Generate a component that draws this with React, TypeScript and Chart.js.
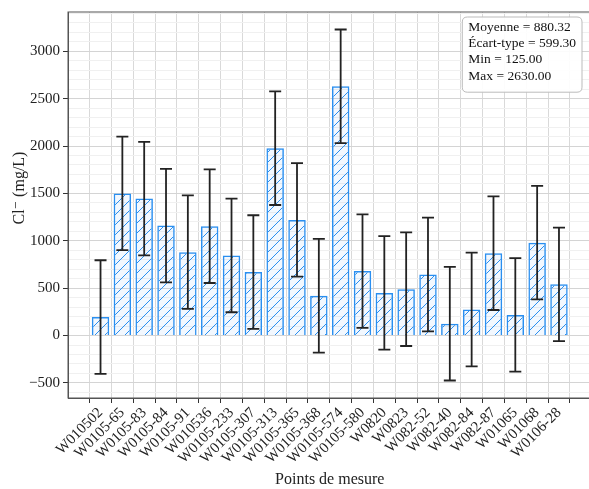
import React, { useEffect, useRef } from "react";
import { Chart, registerables } from "chart.js";

Chart.register(...registerables);

// ---- Data ----
const categories = [
  "W010502", "W0105-65", "W0105-83", "W0105-84", "W0105-91", "W010536",
  "W0105-233", "W0105-307", "W0105-313", "W0105-365", "W0105-368", "W0105-574",
  "W0105-580", "W0820", "W0823", "W082-52", "W082-40", "W082-84",
  "W082-87", "W01065", "W01068", "W0106-28",
];
const chlorideValues = [
  195, 1500, 1445, 1160, 880, 1154,
  845, 670, 1977, 1220, 420, 2630,
  680, 450, 489, 644, 125, 275,
  869, 218, 980, 540,
];
// every error bar is ± one standard deviation
const errorHalfWidth = 599.3;
const yMajorTicks = [-500, 0, 500, 1000, 1500, 2000, 2500, 3000];
const statsLines = [
  "Moyenne = 880.32",
  "Écart-type = 599.30",
  "Min = 125.00",
  "Max = 2630.00",
];
const xTitle = "Points de mesure";
const yTitle = "Cl\u207B (mg/L)";

const FONT = "'Liberation Serif', 'DejaVu Serif', serif";
const EDGE = "#2a8ff0";

function makeHatch(): CanvasPattern | string {
  const s = 10;
  const c = document.createElement("canvas");
  c.width = s;
  c.height = s;
  const g = c.getContext("2d");
  if (!g) return "rgba(30,144,255,0.08)";
  g.fillStyle = "rgba(30,144,255,0.06)";
  g.fillRect(0, 0, s, s);
  g.strokeStyle = EDGE;
  g.lineWidth = 1;
  g.beginPath();
  g.moveTo(0, s);
  g.lineTo(s, 0);
  g.moveTo(-s / 2, s / 2);
  g.lineTo(s / 2, -s / 2);
  g.moveTo(s / 2, s + s / 2);
  g.lineTo(s + s / 2, s / 2);
  g.stroke();
  const p = g.createPattern(c, "repeat");
  return p || "rgba(30,144,255,0.08)";
}

const errorBarPlugin = {
  id: "errorBars",
  afterDatasetsDraw(chart: any) {
    const { ctx, scales } = chart;
    const xs = scales.x;
    const ys = scales.y;
    ctx.save();
    ctx.strokeStyle = "#222";
    ctx.lineWidth = 1.8;
    const cap = 6;
    chlorideValues.forEach((v, i) => {
      const x = xs.getPixelForValue(i);
      const yt = ys.getPixelForValue(v + errorHalfWidth);
      const yb = ys.getPixelForValue(v - errorHalfWidth);
      ctx.beginPath();
      ctx.moveTo(x, yt);
      ctx.lineTo(x, yb);
      ctx.moveTo(x - cap, yt);
      ctx.lineTo(x + cap, yt);
      ctx.moveTo(x - cap, yb);
      ctx.lineTo(x + cap, yb);
      ctx.stroke();
    });
    ctx.restore();
  },
};

const framePlugin = {
  id: "frameAndStats",
  afterDraw(chart: any) {
    const { ctx, chartArea } = chart;
    ctx.save();
    ctx.strokeStyle = "#555";
    ctx.lineWidth = 1;
    ctx.strokeRect(chartArea.left, chartArea.top, chartArea.right - chartArea.left, chartArea.bottom - chartArea.top);

    // y-axis title
    ctx.save();
    ctx.translate(20, 188);
    ctx.rotate(-Math.PI / 2);
    ctx.font = `16px ${FONT}`;
    ctx.fillStyle = "#222";
    ctx.textAlign = "center";
    ctx.textBaseline = "middle";
    ctx.fillText(yTitle, 0, 0);
    ctx.restore();

    // statistics box (top-right)
    ctx.font = `13.5px ${FONT}`;
    const lineH = 16.3;
    const padX = 6;
    const padTop = 2;
    const padBottom = 8;
    let w = 0;
    statsLines.forEach((t) => { w = Math.max(w, ctx.measureText(t).width); });
    const bw = w + padX * 2;
    const bh = statsLines.length * lineH + padTop + padBottom;
    const right = chartArea.right - 9.5;
    const top = chartArea.top + 5;
    const left = right - bw;
    const r = 5;
    ctx.beginPath();
    ctx.moveTo(left + r, top);
    ctx.lineTo(left + bw - r, top);
    ctx.quadraticCurveTo(left + bw, top, left + bw, top + r);
    ctx.lineTo(left + bw, top + bh - r);
    ctx.quadraticCurveTo(left + bw, top + bh, left + bw - r, top + bh);
    ctx.lineTo(left + r, top + bh);
    ctx.quadraticCurveTo(left, top + bh, left, top + bh - r);
    ctx.lineTo(left, top + r);
    ctx.quadraticCurveTo(left, top, left + r, top);
    ctx.closePath();
    ctx.fillStyle = "rgba(255,255,255,0.9)";
    ctx.fill();
    ctx.strokeStyle = "#bbb";
    ctx.stroke();
    ctx.fillStyle = "#111";
    ctx.textBaseline = "middle";
    ctx.textAlign = "left";
    statsLines.forEach((t, i) => {
      ctx.fillText(t, left + padX, top + padTop + lineH * i + lineH / 2);
    });
    ctx.restore();
  },
};

export default function App() {
  const ref = useRef<HTMLCanvasElement>(null);

  useEffect(() => {
    document.body.style.margin = "0";
    document.body.style.overflow = "hidden";
    const canvas = ref.current;
    if (!canvas) return;
    const hatch = makeHatch();

    const chart = new Chart(canvas, {
      type: "bar",
      data: {
        datasets: [
          {
            label: "Cl",
            data: chlorideValues.map((v, i) => ({ x: i, y: v })),
            backgroundColor: hatch as any,
            borderColor: EDGE,
            borderWidth: 1.5,
            barPercentage: 0.8,
            categoryPercentage: 1,
          },
        ],
      },
      options: {
        responsive: false,
        animation: false,
        events: [],
        layout: { padding: { top: 7.5, right: 8.5, bottom: 0, left: 0 } },
        plugins: { legend: { display: false }, tooltip: { enabled: false } },
        scales: {
          x: {
            type: "linear",
            min: -1.49,
            max: 22.49,
            offset: false,
            afterBuildTicks: (axis: any) => {
              axis.ticks = categories.map((_, i) => ({ value: i }));
            },
            afterFit: (axis: any) => { axis.height = 91; },
            ticks: {
              autoSkip: false,
              minRotation: 45,
              maxRotation: 45,
              padding: 1,
              color: "#222",
              font: { family: FONT, size: 15 },
              callback: (v: any) => categories[Number(v)] ?? "",
            },
            grid: {
              color: "#d9d9d9",
              lineWidth: 1,
              tickLength: 5,
              tickColor: "#333",
            },
            border: { display: true, color: "#555" },
            title: {
              display: true,
              text: xTitle,
              color: "#222",
              font: { family: FONT, size: 16 },
              padding: { top: 0, bottom: 0 },
            },
          },
          y: {
            type: "linear",
            min: -659,
            max: 3414,
            afterBuildTicks: (axis: any) => {
              const t: any[] = [];
              for (let v = -600; v <= 3400; v += 100) t.push({ value: v });
              axis.ticks = t;
            },
            afterFit: (axis: any) => { axis.width = 68; },
            ticks: {
              autoSkip: false,
              padding: 3,
              color: "#222",
              font: { family: FONT, size: 15 },
              callback: (v: any) =>
                yMajorTicks.includes(Number(v)) ? String(v).replace("-", "\u2212") : "",
            },
            grid: {
              color: (c: any) => (c.tick && c.tick.value % 500 === 0 ? "#d4d4d4" : "#f0f0f0"),
              lineWidth: 1,
              tickLength: 5,
              tickColor: (c: any) => (c.tick && c.tick.value % 500 === 0 ? "#333" : "rgba(0,0,0,0)"),
            },
            border: { display: true, color: "#555" },
            title: { display: false },
          },
        },
      },
      plugins: [errorBarPlugin, framePlugin],
    });
    return () => chart.destroy();
  }, []);

  return (
    <div style={{ position: "fixed", left: 0, top: 0, width: 589, height: 489, overflow: "hidden", background: "#fff" }}>
      <canvas ref={ref} width={600} height={489} style={{ width: 600, height: 489, display: "block" }} />
    </div>
  );
}
